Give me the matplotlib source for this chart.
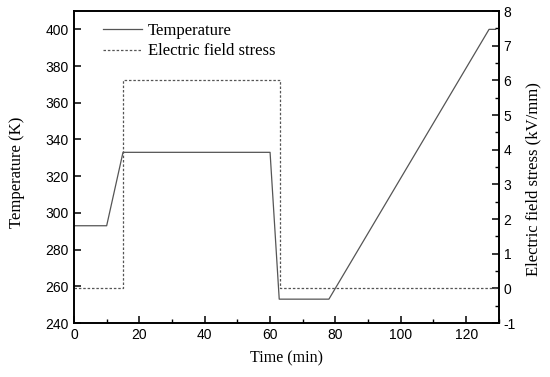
import matplotlib
matplotlib.use("Agg")
import matplotlib.pyplot as plt
from matplotlib.ticker import MultipleLocator

plt.rcParams["axes.unicode_minus"] = False

time_temp = [0, 10, 15, 60, 62.8, 78, 127, 129]
temperature = [293, 293, 333, 333, 253, 253, 400, 400]
time_field = [0, 15, 15, 63, 63, 130]
field = [0, 0, 6, 6, 0, 0]

fig = plt.figure(figsize=(5.5, 3.77), dpi=100)
ax = fig.add_axes([0.1345, 0.1432, 0.7725, 0.8276])
ax2 = ax.twinx()

col = "#555555"
l1, = ax.plot(time_temp, temperature, color=col, lw=0.9, label="Temperature")
l2, = ax2.plot(time_field, field, color=col, lw=0.9, ls=(0, (2, 1.5)), label="Electric field stress")

ax.set_xlim(0, 130)
ax.set_ylim(240, 410)
ax2.set_ylim(-1, 8)
ax.set_xticks(range(0, 121, 20))
ax.xaxis.set_minor_locator(MultipleLocator(10))
ax.set_yticks(range(240, 401, 20))
ax2.set_yticks(range(-1, 9))
ax2.yaxis.set_minor_locator(MultipleLocator(0.5))

for a in (ax, ax2):
    for lab in a.get_xticklabels() + a.get_yticklabels():
        lab.set_fontfamily("Liberation Sans")
        lab.set_fontsize(10)
    for s in a.spines.values():
        s.set_linewidth(1.2)
ax.tick_params(axis="both", which="major", direction="in", length=5, width=1.1, top=False)
ax.tick_params(axis="both", which="minor", direction="in", length=3, width=1.0)
ax2.tick_params(axis="y", which="major", direction="in", length=5, width=1.1)
ax2.tick_params(axis="y", which="minor", direction="in", length=3, width=1.0)

ax.set_xlabel("Time (min)", fontdict={"family": "Liberation Serif", "size": 11.5}, labelpad=6)
ax.set_ylabel("Temperature (K)", fontdict={"family": "Liberation Serif", "size": 12}, labelpad=15)
ax.yaxis.label.set_y(0.484)
ax2.set_ylabel("Electric field stress (kV/mm)", fontdict={"family": "Liberation Serif", "size": 12})
ax2.yaxis.set_label_coords(1.063, 0.462)

leg = ax.legend([l1, l2], ["Temperature", "Electric field stress"], loc="upper left",
                bbox_to_anchor=(0.033, 1.01), frameon=False,
                prop={"family": "Liberation Serif", "size": 12},
                handlelength=2.33, handletextpad=0.36, labelspacing=0.27)

fig.savefig("out.png", dpi=100)
